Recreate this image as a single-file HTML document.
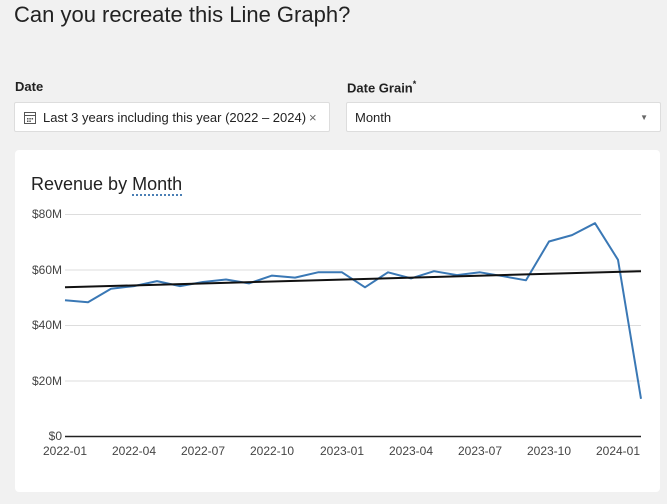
<!DOCTYPE html>
<html><head><meta charset="utf-8"><style>
body{margin:0;width:667px;height:504px;background:#f1f1f1;font-family:"Liberation Sans",sans-serif;position:relative;overflow:hidden;color:#222}
.h{position:absolute;left:14px;top:2px;font-size:22px;color:#222}
.lbl{position:absolute;top:79px;font-size:13px;font-weight:bold;color:#222}
.box{position:absolute;top:102px;height:30px;background:#fff;border:1px solid #ddd;border-radius:2px;font-size:13px;line-height:30px;box-sizing:border-box}
.card{position:absolute;left:15px;top:150px;width:645px;height:342px;background:#fff;border-radius:4px}
</style></head><body>
<div class="h">Can you recreate this Line Graph?</div>
<div class="lbl" style="left:15px">Date</div>
<div class="lbl" style="left:347px">Date Grain<sup style="font-size:9px">*</sup></div>
<div class="box" style="left:14px;width:316px;padding-left:28px">
<svg style="position:absolute;left:9px;top:8px" width="12" height="13" viewBox="0 0 12 13"><rect x="0.5" y="1.5" width="11" height="11" fill="none" stroke="#555"/><line x1="0.5" y1="4.5" x2="11.5" y2="4.5" stroke="#555"/><rect x="3" y="7" width="1.5" height="1.5" fill="#555"/><rect x="5.3" y="7" width="1.5" height="1.5" fill="#555"/><rect x="7.6" y="7" width="1.5" height="1.5" fill="#555"/><rect x="3" y="9.5" width="1.5" height="1.5" fill="#555"/><rect x="5.3" y="9.5" width="1.5" height="1.5" fill="#555"/></svg>
Last 3 years including this year (2022 – 2024)<span style="position:absolute;left:294px;color:#666">×</span></div>
<div class="box" style="left:346px;width:315px;padding-left:8px">Month<span style="position:absolute;right:12px;top:0;font-size:8px;color:#666">▼</span></div>
<div class="card"></div>
<div style="position:absolute;left:31px;top:174px;font-size:18px;color:#222">Revenue by <span style="border-bottom:2px dotted #4a7fb5">Month</span></div>
<svg style="position:absolute;left:0;top:0" width="667" height="504">
<g stroke="#ddd" stroke-width="1">
<line x1="65" x2="641" y1="214.5" y2="214.5"/><line x1="65" x2="641" y1="270" y2="270"/><line x1="65" x2="641" y1="325.5" y2="325.5"/><line x1="65" x2="641" y1="381" y2="381"/></g>
<line x1="65" x2="641" y1="436.5" y2="436.5" stroke="#222" stroke-width="1.5"/>
<g font-size="12" fill="#444" text-anchor="end">
<text x="62" y="218">$80M</text><text x="62" y="274">$60M</text><text x="62" y="329">$40M</text><text x="62" y="385">$20M</text><text x="62" y="440">$0</text></g>
<g font-size="12" fill="#444" text-anchor="middle">
<text x="65" y="455">2022-01</text><text x="134" y="455">2022-04</text><text x="203" y="455">2022-07</text><text x="272" y="455">2022-10</text><text x="342" y="455">2023-01</text><text x="411" y="455">2023-04</text><text x="480" y="455">2023-07</text><text x="549" y="455">2023-10</text><text x="618" y="455">2024-01</text></g>
<polyline fill="none" stroke="#3a78b5" stroke-width="2" stroke-linejoin="round" points="65,300.3 88,302.2 111,288.8 134,286.1 157,281.1 180,286.1 203,282 226,279.5 249,283.4 272,275.6 295,277.6 318,272.3 342,272.3 365,287.3 388,272.3 411,278.4 434,271.2 457,275.1 480,272.3 503,276.2 526,280.3 549,241.5 572,235.1 595,223.2 618,259.8 641,398.8"/>
<line x1="65" y1="287.3" x2="641" y2="271.2" stroke="#111" stroke-width="2"/>
</svg>
</body></html>
